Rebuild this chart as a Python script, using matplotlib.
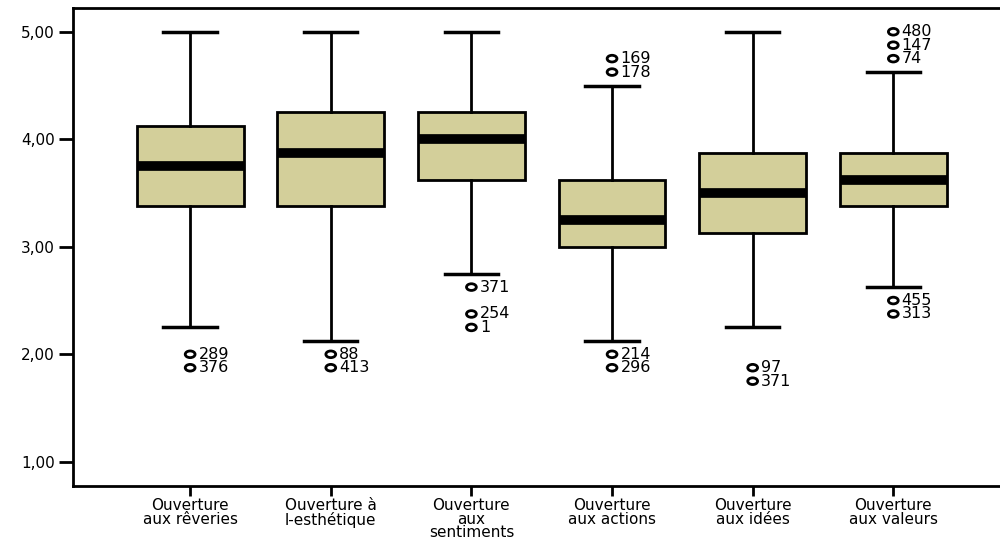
import matplotlib
matplotlib.use("Agg")
import matplotlib.pyplot as plt
from matplotlib.path import Path
from matplotlib.ticker import FixedLocator, FuncFormatter

plt.rcParams['font.family'] = ['DejaVu Sans']

labels = ["Ouverture\naux rêveries", "Ouverture à\nl-esthétique", "Ouverture\naux\nsentiments",
          "Ouverture\naux actions", "Ouverture\naux idées", "Ouverture\naux valeurs"]
whislo = [2.25, 2.125, 2.75, 2.125, 2.25, 2.625]
q1 = [3.375, 3.375, 3.625, 3.0, 3.125, 3.375]
med = [3.75, 3.875, 4.0, 3.25, 3.5, 3.625]
q3 = [4.125, 4.25, 4.25, 3.625, 3.875, 3.875]
whishi = [5.0, 5.0, 5.0, 4.5, 5.0, 4.625]
outlier_values = [[2.0, 1.875], [2.0, 1.875], [2.625, 2.375, 2.25],
                  [4.75, 4.625, 2.0, 1.875], [1.875, 1.75], [5.0, 4.875, 4.75, 2.5, 2.375]]
outlier_ids = [["289", "376"], ["88", "413"], ["371", "254", "1"],
               ["169", "178", "214", "296"], ["97", "371"], ["480", "147", "74", "455", "313"]]

stats = []
for i in range(len(labels)):
    stats.append(dict(label=labels[i], whislo=whislo[i], q1=q1[i], med=med[i],
                      q3=q3[i], whishi=whishi[i], fliers=outlier_values[i]))

# flattened ring used for outlier markers
ring = Path.unit_circle()
ring = Path(ring.vertices * [1.0, 0.68], ring.codes)

fig = plt.figure(figsize=(10, 5.4), dpi=100)
ax = fig.add_axes([0.073, 0.10, 0.930, 0.885])

positions = list(range(1, len(labels) + 1))
ax.bxp(stats, positions=positions, widths=0.76, patch_artist=True, showfliers=False,
       boxprops=dict(facecolor="#d3cf9a", edgecolor="black", linewidth=2),
       medianprops=dict(color="black", linewidth=7, solid_capstyle="butt"),
       whiskerprops=dict(color="black", linewidth=2),
       capprops=dict(color="black", linewidth=2.5),
       capwidths=0.38)

for pos, vals, ids in zip(positions, outlier_values, outlier_ids):
    ax.scatter([pos] * len(vals), vals, s=50, marker=ring, facecolors="none",
               edgecolors="black", linewidths=2, zorder=4)
    for v, t in zip(vals, ids):
        ax.text(pos + 0.06, v, t, fontsize=11.5, va="center", ha="left")

ax.set_xlim(1 - 0.833, 6 + 0.78)
ax.set_ylim(0.775, 5.22)
ax.yaxis.set_major_locator(FixedLocator([1, 2, 3, 4, 5]))
ax.yaxis.set_major_formatter(FuncFormatter(lambda v, p: f"{v:.2f}".replace(".", ",")))
ax.set_xticks(positions)
ax.set_xticklabels(labels, fontsize=11, linespacing=0.9)
ax.tick_params(axis="y", labelsize=11, length=10, width=2, pad=3)
ax.tick_params(axis="x", length=7, width=2, pad=1.5)
for s in ax.spines.values():
    s.set_linewidth(2)

fig.savefig("out.png", dpi=100)
